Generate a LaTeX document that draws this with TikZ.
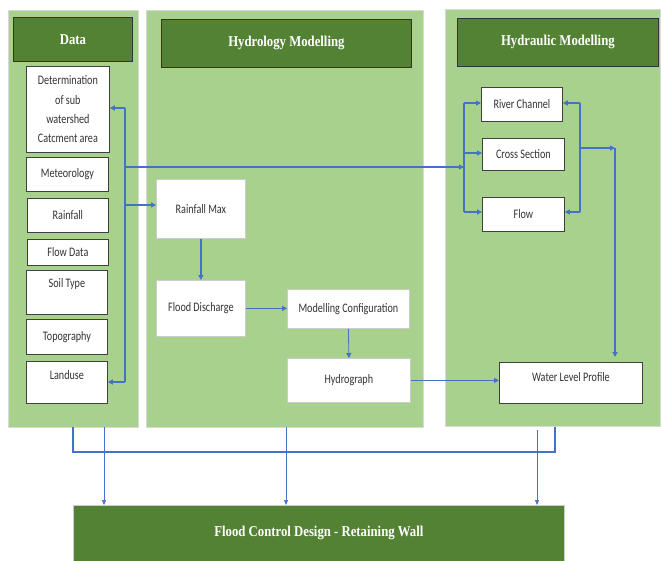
\documentclass[tikz,border=0pt]{standalone}
\usepackage{fontspec}
\setmainfont{Carlito}[FakeStretch=0.78]
\newfontfamily\hfont{Liberation Serif}[FakeStretch=0.85]
\usetikzlibrary{arrows.meta,calc}
\definecolor{lgreen}{HTML}{A9D18E}
\definecolor{dgreen}{HTML}{548235}
\definecolor{cblue}{HTML}{4472C4}
\tikzset{
 panel/.style={fill=lgreen, draw=black!15, line width=1pt, anchor=north west, inner sep=0pt},
 header/.style={fill=dgreen, draw=black!80, line width=0.8pt, anchor=north west, inner sep=0pt, font=\hfont\bfseries\fontsize{15}{18}\selectfont, text=white},
 dbox/.style={fill=white, draw=black!75, line width=0.8pt, anchor=north west, inner sep=0pt, font=\fontsize{13}{15}\selectfont, align=center, text=black!80},
 hbox/.style={dbox, draw=black!20},
 txt/.style={font=\fontsize{13}{15}\selectfont, inner sep=0pt, text=black!80},
 link/.style={draw=cblue, line width=1.2pt},
 arr/.style={link, -{Triangle[length=5pt,width=5pt]}},
 thinarr/.style={draw=cblue, line width=0.6pt, -{Triangle[length=5pt,width=4pt]}},
}
\begin{document}
\begin{tikzpicture}[x=1pt,y=-1pt]
\useasboundingbox (0,0) rectangle (661,560);
% panels
\node[panel, minimum width=130pt, minimum height=417pt] (dataP) at (8,10) {};
\node[panel, minimum width=277pt, minimum height=417pt] (hydroP) at (146,10) {};
\node[panel, minimum width=215pt, minimum height=417pt] (hydrauP) at (445,9) {};
% headers
\node[header, minimum width=119pt, minimum height=44pt] (dataH) at (13,17) {Data};
\node[header, minimum width=250pt, minimum height=48pt] (hydroH) at (161,19) {Hydrology Modelling};
\node[header, minimum width=201pt, minimum height=48pt] (hydrauH) at (457,18) {Hydraulic Modelling};
% data boxes
\node[dbox, minimum width=83pt, minimum height=86pt, font=\fontsize{13}{19.3}\selectfont] (det) at (26,66) {Determination\\of sub\\watershed\\Catcment area};
\node[dbox, minimum width=82pt, minimum height=34pt] (met) at (26,157) {Meteorology};
\node[dbox, minimum width=81pt, minimum height=34pt] (rain) at (27,198) {Rainfall};
\node[dbox, minimum width=81pt, minimum height=26pt] (flowd) at (27,239) {Flow Data};
\node[dbox, minimum width=81pt, minimum height=44pt] (soil) at (26,270) {};
\node[txt] (soilT) at ($(soil.north)+(0,14)$) {Soil Type};
\node[dbox, minimum width=81pt, minimum height=35pt] (topo) at (26,319) {Topography};
\node[dbox, minimum width=81pt, minimum height=42pt] (land) at (26,361) {};
\node[txt] (landT) at ($(land.north)+(0,14)$) {Landuse};
% hydrology boxes
\node[hbox, minimum width=89pt, minimum height=59pt] (rmax) at (156,179) {Rainfall Max};
\node[hbox, minimum width=89pt, minimum height=56pt] (fdis) at (156,280) {Flood Discharge};
\node[hbox, minimum width=122pt, minimum height=39pt] (mconf) at (287,289) {Modelling Configuration};
\node[hbox, minimum width=123pt, minimum height=44pt] (hgraph) at (287,358) {Hydrograph};
% hydraulic boxes
\node[dbox, minimum width=81pt, minimum height=34pt] (river) at (481,87) {River Channel};
\node[dbox, minimum width=82pt, minimum height=32pt] (cross) at (482,138) {Cross Section};
\node[dbox, minimum width=82pt, minimum height=34pt] (flow) at (482,197) {Flow};
\node[dbox, minimum width=143pt, minimum height=41pt] (wlp) at (499,362) {};
\node[txt] (wlpT) at ($(wlp.north)+(0,15)$) {Water Level Profile};
% final
\node[header, draw=black!20, minimum width=491pt, minimum height=56pt, font=\hfont\bfseries\fontsize{15}{18}\selectfont] (final) at (73,505) {Flood Control Design - Retaining Wall};

% data bracket
\coordinate (dA) at (125,108);
\coordinate (dB) at (125,382);
\coordinate (dM) at (125,167);
\coordinate (dR) at (125,205);
\draw[link] (dA) -- (dB);
\draw[arr] (dA) -- (det.east |- dA);
\draw[arr] (dB) -- (land.east |- dB);
\draw[arr] (dR) -- (rmax.west |- dR);
% hydraulic left bracket
\coordinate (hT) at (464,103);
\coordinate (hB) at (464,212);
\coordinate (hM) at (464,167);
\coordinate (hC) at (464,153);
\draw[arr] (dM) -- (hM);
\draw[link] (hT) -- (hB);
\draw[arr] (hT) -- (river.west |- hT);
\draw[arr] (hC) -- (cross.west |- hC);
\draw[arr] (hB) -- (flow.west |- hB);
% hydraulic right bracket
\coordinate (rT) at (580,103);
\coordinate (rB) at (580,212);
\coordinate (rM) at (580,148);
\coordinate (rC) at (615,148);
\draw[link] (rT) -- (rB);
\draw[arr] (rT) -- (river.east |- rT);
\draw[arr] (rB) -- (flow.east |- rB);
\draw[arr] (rM) -- (rC);
\draw[arr, shorten >=5pt] (rC) -- (rC |- wlp.north);
% hydrology flow
\draw[arr] (rmax.south) -- (fdis.north);
\draw[arr, line width=1.5pt] (fdis.east) -- (fdis.east -| mconf.west);
\draw[arr, line width=0.8pt] (mconf.south) -- (hgraph.north);
\draw[arr] (hgraph.east) -- (hgraph.east -| wlp.west);
% bottom
\coordinate (bL) at (73,427);
\coordinate (bR) at (555,427);
\coordinate (bM) at (555,452);
\draw[link] (bL) |- (bM) -- (bR);
\coordinate (a1) at (104,427);
\coordinate (a2) at (286,427);
\coordinate (a3) at (537,430);
\draw[thinarr] (a1) -- (a1 |- final.north);
\draw[thinarr] (a2) -- (a2 |- final.north);
\draw[thinarr] (a3) -- (a3 |- final.north);
\end{tikzpicture}
\end{document}
